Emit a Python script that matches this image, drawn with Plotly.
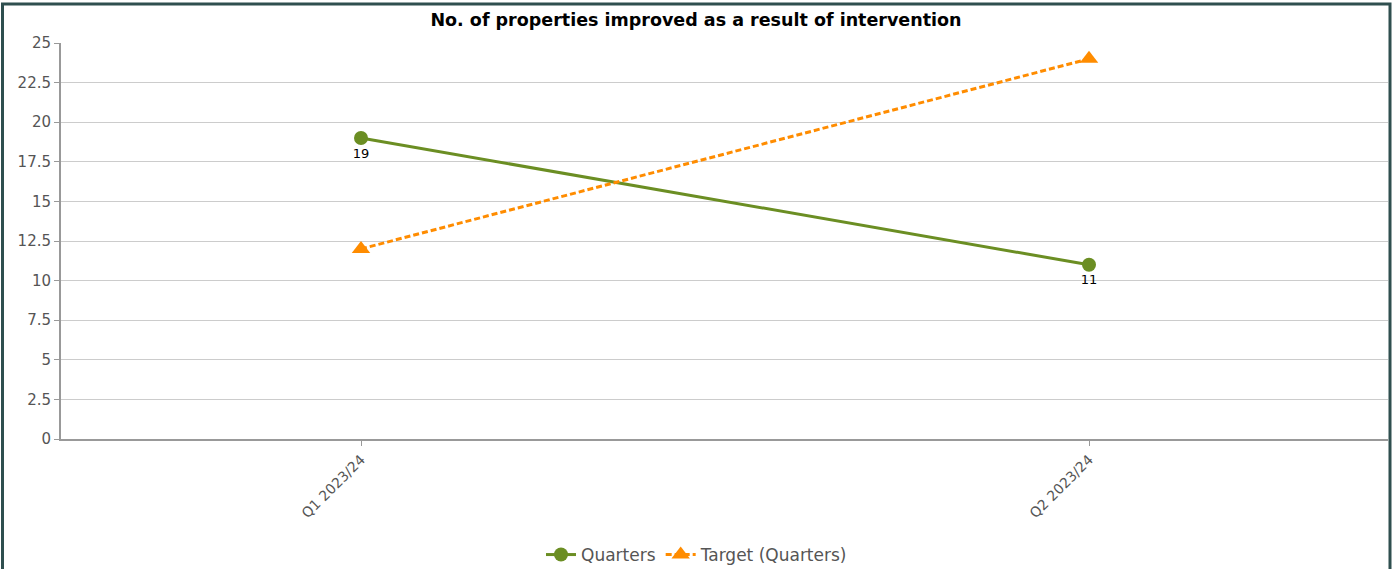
import plotly.graph_objects as go

categories = ["Q1 2023/24", "Q2 2023/24"]
quarters = [19, 11]
target = [12, 24]
y_ticks = [0, 2.5, 5, 7.5, 10, 12.5, 15, 17.5, 20, 22.5, 25]

FONT = "DejaVu Sans"

fig = go.Figure()
fig.add_trace(go.Scatter(
    x=categories, y=quarters, name="Quarters", mode="lines+markers+text",
    line=dict(color="#6B8E23", width=3),
    marker=dict(symbol="circle", size=14, color="#6B8E23"),
    text=[str(v) for v in quarters], textposition="bottom center",
    textfont=dict(family=FONT, size=13, color="#000000"),
))
fig.add_trace(go.Scatter(
    x=categories, y=target, name="Target (Quarters)", mode="lines+markers",
    line=dict(color="#FF8C00", width=3, dash="6px,3px"),
    marker=dict(symbol="triangle-up", size=16, color="#FF8C00"),
))

L, R, T, B = 61, 4, 43, 130
W, H = 1392, 569
pw, ph = W - L - R, H - T - B

def px_to_paper_x(px):
    return (px - L) / pw

def px_to_paper_y(py):
    return (H - B - py) / ph

# category positions at pixels 361 and 1089
unit = (1089 - 361)
x_lo = -(361 - L) / unit
x_hi = 1 + (W - R - 1089) / unit

fig.update_layout(
    width=W, height=H,
    margin=dict(l=L, r=R, t=T, b=B, autoexpand=False),
    paper_bgcolor="white", plot_bgcolor="white",
    font=dict(family=FONT, size=15, color="#555555"),
    title=dict(text="<b>No. of properties improved as a result of intervention</b>",
               x=0.5, xanchor="center", y=1 - 20 / H, yanchor="middle",
               yref="container", font=dict(family=FONT, size=17.5, color="#000000")),
    showlegend=True,
    legend=dict(orientation="h", x=px_to_paper_x(697), xanchor="center",
                y=px_to_paper_y(555), yanchor="middle",
                font=dict(family=FONT, size=17, color="#555555"),
                itemwidth=30),
    xaxis=dict(
        type="category", range=[x_lo, x_hi],
        showgrid=False, showline=True, linecolor="#999999", linewidth=2,
        ticks="outside", ticklen=5, tickcolor="#999999",
        tickangle=-45, tickfont=dict(family=FONT, size=14, color="#555555"),
        zeroline=False, automargin=False,
    ),
    yaxis=dict(
        range=[0, 25], tickvals=y_ticks, ticktext=[f"{v:g}" for v in y_ticks],
        showgrid=True, gridcolor="#CCCCCC", gridwidth=1,
        showline=True, linecolor="#999999", linewidth=2,
        ticks="outside", ticklen=5, tickcolor="#999999",
        tickfont=dict(family=FONT, size=15, color="#555555"),
        zeroline=False, automargin=False,
    ),
)

# outer frame border
fig.add_shape(type="rect", xref="paper", yref="paper",
              x0=px_to_paper_x(2.5), x1=px_to_paper_x(1390),
              y0=px_to_paper_y(575), y1=px_to_paper_y(4),
              line=dict(color="#2F4F4F", width=3), fillcolor="rgba(0,0,0,0)",
              layer="below")

fig.write_html("out.html", config={"displayModeBar": False},
               post_script="document.body.style.margin='0';")
